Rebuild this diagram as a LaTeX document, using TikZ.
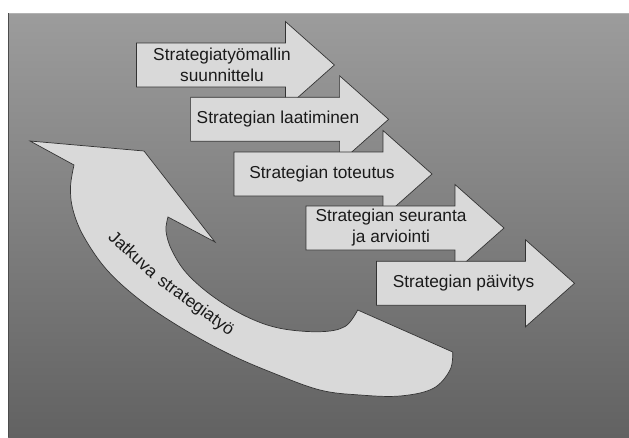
\documentclass[tikz,border=0pt]{standalone}
\usepackage{fontspec}
\setmainfont{Liberation Sans}

\definecolor{bgtop}{HTML}{9C9C9C}
\definecolor{bgbottom}{HTML}{626262}
\definecolor{shapefill}{HTML}{D9D9D9}
\definecolor{shapeline}{HTML}{333333}
\definecolor{labeltext}{HTML}{1A1A1A}

\newcommand{\labelfont}{\fontsize{17.3}{21}\selectfont}

\tikzset{
  outline/.style={draw=shapeline, fill=shapefill, line width=0.7pt, line join=miter},
  steptext/.style={text=labeltext, font=\labelfont, align=center, inner sep=0pt},
  % block arrow: body 149 x 44, head 49 long and 87 high
  procarrow/.pic={
    \draw[outline] (0,-22) -- (149,-22) -- (149,-43.5) -- (198,0)
                   -- (149,43.5) -- (149,22) -- (0,22) -- cycle;
  }
}

\begin{document}
\begin{tikzpicture}[x=1pt, y=-1pt]
\useasboundingbox (0,0) rectangle (629,437);

% backdrop panel
\shade[top color=bgtop, bottom color=bgbottom] (8,13) rectangle (629,437);
\draw[color=black!30, line width=0.8pt] (8,13.4) -- (629,13.4);
\draw[color=black!70, line width=1pt] (8.5,13) -- (8.5,437);

% curved return arrow
\draw[outline]
  (30,141) -- (144,151) -- (215,242)
  -- plot[smooth, tension=0.6] coordinates {
       (168,217) (166,231) (171.7,250) (186.7,273.3) (213.3,296.7)
       (246.7,316.7) (280,328.3) (320,331.7) (345,326.5) (357.7,310)}
  -- plot[smooth, tension=0.6] coordinates {
       (452.7,352) (450,370) (433,388.5) (400,396) (360,395) (320,390)
       (273,373) (227,353) (180,327) (140,300) (107,270) (84,237)
       (73,210) (70.5,187) (74,165)}
  -- cycle;

% label following the bend of the return arrow
\node[steptext, rotate=-43] (c1) at (133.5,254) {Jatkuva};
\node[steptext, rotate=-36] (c2) at (195.5,306) {strategiatyö};

% process steps
\pic at (136.4,65) {procarrow};
\node[steptext] (s1) at (222,65) {Strategiatyömallin\\suunnittelu};

\pic at (190.6,119.3) {procarrow};
\node[steptext] (s2) at (278,119.3) {Strategian laatiminen};

\pic at (234,174) {procarrow};
\node[steptext] (s3) at (322,174) {Strategian toteutus};

\pic at (306,228) {procarrow};
\node[steptext] (s4) at (391,228) {Strategian seuranta\\ja arviointi};

\pic at (376.5,283.3) {procarrow};
\node[steptext] (s5) at (463.5,283.3) {Strategian päivitys};

\end{tikzpicture}
\end{document}
